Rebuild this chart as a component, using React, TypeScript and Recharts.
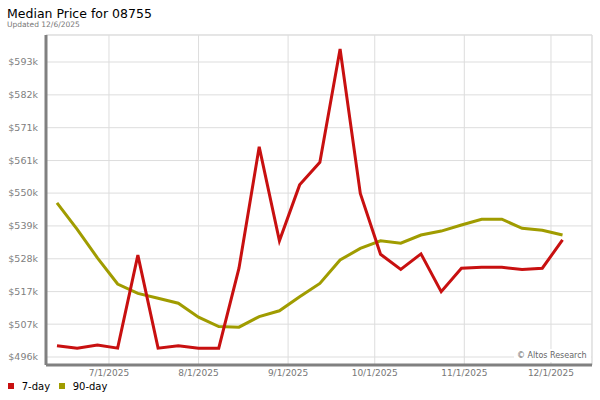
import { LineChart, Line, XAxis, YAxis, CartesianGrid, ReferenceLine } from 'recharts';

const dates = [
  '2025-06-13', '2025-06-20', '2025-06-27', '2025-07-04', '2025-07-11', '2025-07-18', '2025-07-25',
  '2025-08-01', '2025-08-08', '2025-08-15', '2025-08-22', '2025-08-29', '2025-09-05', '2025-09-12',
  '2025-09-19', '2025-09-26', '2025-10-03', '2025-10-10', '2025-10-17', '2025-10-24', '2025-10-31',
  '2025-11-07', '2025-11-14', '2025-11-21', '2025-11-28', '2025-12-05',
];

// median price, in $k
const sevenDay = [
  500.1, 499.3, 500.3, 499.3, 529.9, 499.3, 500.1, 499.3, 499.3, 525.6, 565.5, 534.6, 553.0,
  560.4, 597.7, 550.2, 530.2, 525.2, 530.3, 517.9, 525.6, 525.9, 525.9, 525.2, 525.6, 534.9,
];
const ninetyDay = [
  547.1, 538.4, 529.0, 520.4, 517.3, 515.7, 514.1, 509.5, 506.4, 506.2, 509.7, 511.6, 516.2,
  520.6, 528.3, 532.1, 534.6, 533.8, 536.5, 537.8, 539.8, 541.7, 541.7, 538.7, 538.1, 536.5,
];

const yTicks = [496.4, 507.2, 517.9, 528.7, 539.5, 550.3, 561.0, 571.8, 582.6, 593.4];
const yTickLabels = ['$496k', '$507k', '$517k', '$528k', '$539k', '$550k', '$561k', '$571k', '$582k', '$593k'];

const xTickDates = ['2025-07-01', '2025-08-01', '2025-09-01', '2025-10-01', '2025-11-01', '2025-12-01'];
const xTickLabels = ['7/1/2025', '8/1/2025', '9/1/2025', '10/1/2025', '11/1/2025', '12/1/2025'];

const RED = '#c81010';
const OLIVE = '#a09c00';
const FONT = '"DejaVu Sans", Verdana, sans-serif';
const DAY = 86400000;

const ts = (d: string) => Date.parse(d + 'T00:00:00Z');

const data = dates.map((d, i) => ({ t: ts(d), seven: sevenDay[i], ninety: ninetyDay[i] }));
const xTicks = xTickDates.map(ts);
const xMin = data[0].t - 3.8 * DAY;
const xMax = data[data.length - 1].t + 10.2 * DAY;
const yMin = 493.77;
const yMax = 602.28;

export default function App() {
  return (
    <div style={{ position: 'relative', width: 600, height: 400, fontFamily: FONT, background: '#fff' }}>
      <style>{`body{margin:0}`}</style>
      <div style={{ position: 'absolute', left: 7, top: 7.6, fontSize: 12.5, lineHeight: '12.5px', color: '#000' }}>
        Median Price for 08755
      </div>
      <div style={{ position: 'absolute', left: 7, top: 20.6, fontSize: 7.5, lineHeight: '7.5px', color: '#777' }}>
        Updated 12/6/2025
      </div>

      <LineChart width={600} height={400} data={data} margin={{ top: 35, right: 8, left: 6, bottom: 15 }}>
        <CartesianGrid stroke="#dddddd" strokeWidth={1} />
        <ReferenceLine y={yMax} stroke="#dddddd" />
        <ReferenceLine x={xMax} stroke="#dddddd" />
        <XAxis
          dataKey="t"
          type="number"
          domain={[xMin, xMax]}
          ticks={xTicks}
          allowDataOverflow
          height={20}
          tickLine={false}
          tickSize={0}
          tickMargin={5}
          axisLine={{ stroke: '#808080', strokeWidth: 3 }}
          tick={{ fill: '#777', fontSize: 9, fontFamily: FONT }}
          tickFormatter={(v: number) => xTickLabels[xTicks.indexOf(v)] ?? ''}
        />
        <YAxis
          type="number"
          domain={[yMin, yMax]}
          ticks={yTicks}
          allowDataOverflow
          width={40}
          tickLine={false}
          tickSize={0}
          tickMargin={8}
          axisLine={{ stroke: '#808080', strokeWidth: 3 }}
          tick={{ fill: '#808080', fontSize: 9.5, fontFamily: FONT }}
          tickFormatter={(v: number) => yTickLabels[yTicks.indexOf(v)] ?? ''}
        />
        <Line type="linear" dataKey="ninety" stroke={OLIVE} strokeWidth={3} dot={false} isAnimationActive={false} />
        <Line type="linear" dataKey="seven" stroke={RED} strokeWidth={3} dot={false} isAnimationActive={false} />
      </LineChart>

      <div
        style={{
          position: 'absolute', left: 514, top: 349, width: 77, height: 13, background: '#fff',
          fontSize: 8, lineHeight: '13px', color: '#666', paddingLeft: 3, boxSizing: 'border-box',
        }}
      >
        © Altos Research
      </div>

      <div style={{ position: 'absolute', left: 8, top: 381.5, fontSize: 10, lineHeight: '10px', color: '#000' }}>
        <span style={{ position: 'absolute', left: 0, top: 1.8, width: 5.5, height: 5.5, background: RED }} />
        <span style={{ position: 'absolute', left: 13.7, top: 0, whiteSpace: 'nowrap' }}>7-day</span>
        <span style={{ position: 'absolute', left: 51.3, top: 1.8, width: 5.5, height: 5.5, background: OLIVE }} />
        <span style={{ position: 'absolute', left: 64.7, top: 0, whiteSpace: 'nowrap' }}>90-day</span>
      </div>
    </div>
  );
}
